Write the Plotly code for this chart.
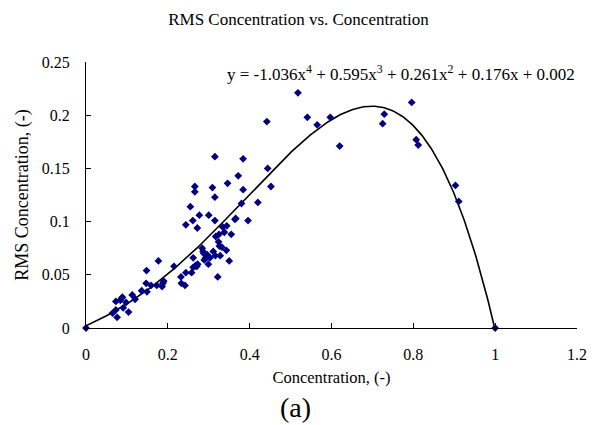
import numpy as np
import plotly.graph_objects as go

conc = [0.0, 0.065, 0.073, 0.076, 0.073, 0.084, 0.087, 0.089, 0.091, 0.098, 0.104, 0.113, 0.120,
        0.136, 0.148, 0.147, 0.149, 0.159, 0.173, 0.177, 0.186, 0.188, 0.190, 0.215, 0.232, 0.233,
        0.242, 0.244, 0.244, 0.255, 0.261, 0.258, 0.262, 0.266, 0.266, 0.272, 0.277, 0.266, 0.269,
        0.271, 0.273, 0.262, 0.284, 0.286, 0.288, 0.289, 0.293, 0.296, 0.299, 0.300, 0.303, 0.309,
        0.311, 0.315, 0.315, 0.315, 0.317, 0.316, 0.322, 0.325, 0.324, 0.326, 0.328, 0.332, 0.334,
        0.338, 0.343, 0.344, 0.346, 0.350, 0.355, 0.364, 0.366, 0.372, 0.380, 0.384, 0.384, 0.396,
        0.420, 0.442, 0.444, 0.452, 0.518, 0.541, 0.565, 0.597, 0.620, 0.725, 0.729, 0.796, 0.807,
        0.812, 0.903, 0.911, 1.0]
rms = [0.0, 0.014, 0.017, 0.010, 0.025, 0.026, 0.028, 0.029, 0.019, 0.024, 0.015, 0.031, 0.027,
       0.035, 0.054, 0.042, 0.034, 0.040, 0.040, 0.063, 0.039, 0.042, 0.044, 0.058, 0.048, 0.042,
       0.040, 0.052, 0.097, 0.114, 0.101, 0.052, 0.066, 0.133, 0.128, 0.094, 0.106, 0.058, 0.059,
       0.058, 0.060, 0.057, 0.075, 0.072, 0.070, 0.064, 0.066, 0.069, 0.060, 0.106, 0.066, 0.132,
       0.072, 0.161, 0.123, 0.101, 0.086, 0.068, 0.048, 0.088, 0.081, 0.077, 0.068, 0.076, 0.095,
       0.090, 0.073, 0.096, 0.136, 0.063, 0.088, 0.102, 0.103, 0.143, 0.117, 0.159, 0.130, 0.101,
       0.118, 0.194, 0.150, 0.133, 0.221, 0.198, 0.191, 0.198, 0.171, 0.192, 0.201, 0.212, 0.177,
       0.172, 0.134, 0.119, 0.0]

# Trendline coefficients (highest power first) as printed on the chart
coeffs = [-1.036, 0.595, 0.261, 0.176, 0.002]
x_ticks = [0, 0.2, 0.4, 0.6, 0.8, 1, 1.2]
y_ticks = [0, 0.05, 0.1, 0.15, 0.2, 0.25]
y_tick_text = ["0", "0.05", "0.1", "0.15", "0.2", "0.25"]

xf = np.linspace(0, 1.0, 300)
yf = np.polyval(coeffs, xf)

serif = "'Liberation Serif', 'Times New Roman', Times, serif"

fig = go.Figure()
fig.add_trace(go.Scatter(x=xf, y=yf, mode="lines", line=dict(color="black", width=1.6),
                         cliponaxis=False, hoverinfo="skip"))
fig.add_trace(go.Scatter(x=conc, y=rms, mode="markers",
                         marker=dict(symbol="diamond", size=6, color="#000080"),
                         cliponaxis=False))

fig.update_layout(
    width=597, height=425,
    margin=dict(l=86, r=10, t=62, b=97),
    plot_bgcolor="white", paper_bgcolor="white",
    showlegend=False,
    font=dict(family=serif, color="black", size=16),
    title=dict(text="RMS Concentration vs. Concentration", x=0.5, xanchor="center",
               y=0.955, yanchor="middle", font=dict(family=serif, size=17, color="black")),
    xaxis=dict(range=[0, 1.2], tickvals=x_ticks, ticktext=[str(v) for v in x_ticks],
               showgrid=False, zeroline=False, showline=True, linecolor="black", linewidth=1,
               ticks="inside", ticklen=5, tickcolor="black", ticklabelstandoff=12,
               ticklabeloverflow="allow",
               tickfont=dict(family=serif, size=16),
               title=dict(text="Concentration, (-)", font=dict(family=serif, size=16.5), standoff=9)),
    yaxis=dict(range=[0, 0.25], tickvals=y_ticks, ticktext=y_tick_text,
               showgrid=False, zeroline=False, showline=True, linecolor="black", linewidth=1,
               ticks="inside", ticklen=5, tickcolor="black", ticklabelstandoff=12,
               tickfont=dict(family=serif, size=16),
               title=dict(text="RMS Concentration, (-)", font=dict(family=serif, size=18), standoff=8)),
)

fig.add_annotation(text="y = -1.036x<sup>4</sup> + 0.595x<sup>3</sup> + 0.261x<sup>2</sup> + 0.176x + 0.002",
                   xref="paper", yref="paper", x=1.0, y=0.958, xanchor="right", yanchor="middle",
                   showarrow=False, font=dict(family=serif, size=17, color="black"))
fig.add_annotation(text="(a)", xref="paper", yref="paper", x=0.427, y=-0.30,
                   xanchor="center", yanchor="middle",
                   showarrow=False, font=dict(family=serif, size=28, color="black"))

fig.write_html("out.html")
